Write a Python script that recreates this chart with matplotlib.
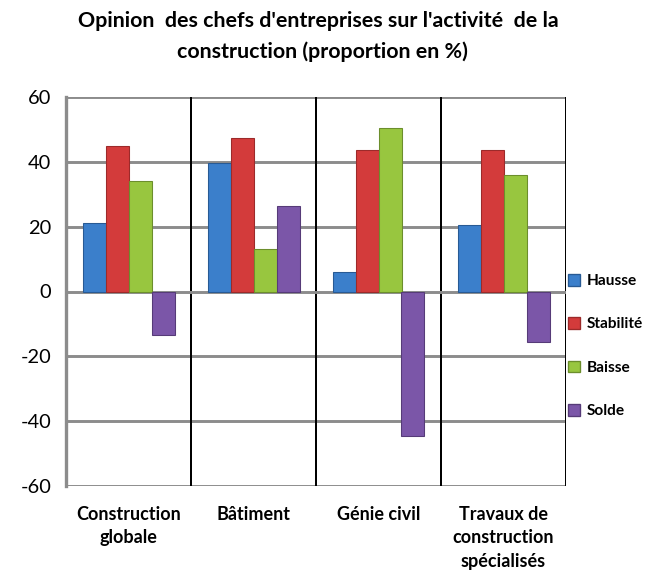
import matplotlib
matplotlib.use("Agg")
import matplotlib.pyplot as plt
import numpy as np
from matplotlib.patches import Patch

categories = ["Construction\nglobale", "Bâtiment", "Génie civil", "Travaux de\nconstruction\nspécialisés"]
series_names = ["Hausse", "Stabilité", "Baisse", "Solde"]
hausse = [21, 39.5, 6, 20.5]
stabilite = [45, 47.5, 43.5, 43.5]
baisse = [34, 13, 50.5, 36]
solde = [-13.5, 26.5, -44.5, -15.5]
yticks = [-60, -40, -20, 0, 20, 40, 60]
colors = ["#3b7fcb", "#d33b3b", "#98c63f", "#7b56a8"]
edges = ["#285a94", "#9c2a2a", "#6c8e2c", "#563b78"]

plt.rcParams['font.family'] = ['Lato', 'DejaVu Sans']

fig = plt.figure(figsize=(7, 6), dpi=96)
ax = fig.add_axes([66/672, 1-486/576, 500/672, 389/576])

x = np.arange(len(categories))
w = 0.184
data = [hausse, stabilite, baisse, solde]
for i, (vals, c, e) in enumerate(zip(data, colors, edges)):
    ax.bar(x + (i - 1.5) * w, vals, w, color=c, edgecolor=e, linewidth=0.8, zorder=3)

ax.set_xlim(-0.5, len(categories) - 0.5)
ax.set_ylim(-60, 60)
ax.set_yticks(yticks)
ax.set_yticklabels([str(t) for t in yticks], fontsize=15)
ax.tick_params(axis='y', length=0, pad=11)
ax.tick_params(axis='x', length=0, pad=15)
ax.set_xticks(x)
ax.set_xticklabels(categories, fontsize=13.5, fontweight='bold', linespacing=1.45, va='top')

for t in yticks:
    ax.axhline(t, color='#8c8c8c', lw=2.2, zorder=1 if t != 0 else 2)
for b in [0.5, 1.5, 2.5, 3.5]:
    ax.axvline(b, color='black', lw=1.5, zorder=1)

for s in ['top', 'bottom', 'right']:
    ax.spines[s].set_visible(False)
ax.spines['left'].set_color('#8c8c8c')
ax.spines['left'].set_linewidth(2.5)

fig.text(318/672, 1-21/576, "Opinion  des chefs d'entreprises sur l'activité  de la",
         ha='center', va='center', fontsize=16, fontweight='bold')
fig.text(322/672, 1-52/576, "construction (proportion en %)",
         ha='center', va='center', fontsize=16, fontweight='bold')

handles = [Patch(facecolor=c, edgecolor=e) for c, e in zip(colors, edges)]
leg = fig.legend(handles, series_names, loc='center left', bbox_to_anchor=(562/672, 1-346/576),
                 frameon=False, prop={'weight': 'bold', 'size': 11.5}, handlelength=0.8,
                 handleheight=0.8, handletextpad=0.4, labelspacing=1.9, borderaxespad=0)

fig.savefig("out.png", dpi=96)
